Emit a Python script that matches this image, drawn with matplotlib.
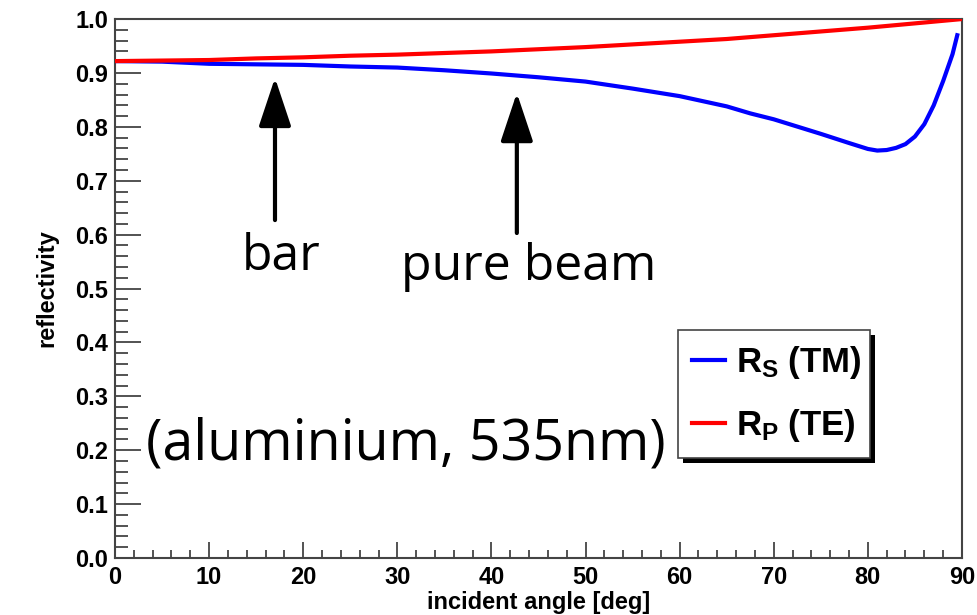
import matplotlib
matplotlib.use('Agg')
import matplotlib.pyplot as plt
from matplotlib.patches import Rectangle
from matplotlib.ticker import MultipleLocator

# Values
angle_s = [0, 5, 10, 15, 20, 25, 30, 35, 40, 45, 50, 55, 60, 65, 67.5, 70, 75,
           78, 80, 81, 82, 83, 84, 85, 86, 87, 88, 89, 89.5]
refl_s = [0.922, 0.921, 0.917, 0.916, 0.915, 0.912, 0.910, 0.905, 0.899, 0.892,
          0.884, 0.871, 0.857, 0.838, 0.825, 0.814, 0.787, 0.770, 0.759, 0.756,
          0.757, 0.761, 0.768, 0.782, 0.805, 0.840, 0.885, 0.935, 0.970]
angle_p = [0, 5, 10, 15, 20, 25, 30, 35, 40, 45, 50, 55, 60, 65, 70, 75, 80, 85, 90]
refl_p = [0.922, 0.923, 0.924, 0.927, 0.929, 0.932, 0.934, 0.937, 0.940, 0.944,
          0.948, 0.953, 0.958, 0.963, 0.970, 0.977, 0.984, 0.992, 1.0]

labels = [r'$R_S$ (TM)', r'$R_P$ (TE)']
arrow_x = [17, 42.7]
arrow_tip = [0.891, 0.863]
arrow_tail = [0.627, 0.603]
arrow_text = ['bar', 'pure beam']

plt.rcParams['font.family'] = 'Liberation Sans'
plt.rcParams['font.weight'] = 'bold'
plt.rcParams['mathtext.fontset'] = 'custom'
plt.rcParams['mathtext.rm'] = 'Liberation Sans:bold'
plt.rcParams['mathtext.it'] = 'Liberation Sans:bold'
plt.rcParams['mathtext.bf'] = 'Liberation Sans:bold'

fig = plt.figure(figsize=(9.78, 6.15), dpi=100)
ax = fig.add_axes([0.1176, 0.0927, 0.866, 0.8763])

ax.plot(angle_s, refl_s, color='blue', lw=3, label=labels[0], zorder=3)
ax.plot(angle_p, refl_p, color='red', lw=3, label=labels[1], zorder=4)

ax.set_xlim(0, 90)
ax.set_ylim(0, 1.0)
ax.xaxis.set_major_locator(MultipleLocator(10))
ax.xaxis.set_minor_locator(MultipleLocator(2))
ax.yaxis.set_major_locator(MultipleLocator(0.1))
ax.yaxis.set_minor_locator(MultipleLocator(0.02))
ax.set_yticks(ax.get_yticks())
ax.set_yticklabels(['%.1f' % v for v in ax.get_yticks()])
ax.set_ylim(0, 1.0)

frame = '#444444'
for sp in ax.spines.values():
    sp.set_color(frame)
    sp.set_linewidth(1.5)
ax.tick_params(which='both', direction='in', color=frame, width=1.3,
               labelsize=17, top=False, right=False)
ax.tick_params(axis='x', which='major', length=11.5, pad=6)
ax.tick_params(axis='x', which='minor', length=5.8)
ax.tick_params(axis='y', which='major', length=19, pad=5)
ax.tick_params(axis='y', which='minor', length=9)
ax.set_xlabel('incident angle [deg]', fontsize=17, fontweight='bold', labelpad=0)
ax.set_ylabel('reflectivity', fontsize=17, fontweight='bold', labelpad=12)
ax.xaxis.set_label_coords(0.5, -0.062)

# arrows and hand-written notes
for x, tip, tail in zip(arrow_x, arrow_tip, arrow_tail):
    ax.annotate('', xy=(x, tip), xytext=(x, tail),
                arrowprops=dict(arrowstyle='-|>,head_length=3.0,head_width=1.0',
                                mutation_scale=10, lw=3, color='black',
                                shrinkA=0, shrinkB=0))
ax.text(17.6, 0.535, arrow_text[0], fontsize=36, fontfamily='Open Sans',
        fontweight='normal', ha='center', va='baseline')
ax.text(44.0, 0.515, arrow_text[1], fontsize=36, fontfamily='Open Sans',
        fontweight='normal', ha='center', va='baseline')
ax.text(3.3, 0.2095, '(aluminium, 535nm)', fontsize=40, fontfamily='Open Sans',
        fontweight='normal', ha='left', va='center')

leg = ax.legend(loc='lower left', bbox_to_anchor=(0.665, 0.186, 0.226, 0.231),
                mode='expand', fontsize=25, frameon=True, fancybox=False,
                framealpha=1, borderaxespad=0, handlelength=0.95,
                handletextpad=0.3, labelspacing=0.75, borderpad=0.4)
leg.get_frame().set_facecolor('white')
leg.get_frame().set_edgecolor(frame)
leg.get_frame().set_linewidth(1.2)
leg.set_zorder(10)

# ROOT-like black drop shadow under the legend box
fig.canvas.draw()
bb = leg.get_window_extent()
shadow = Rectangle((bb.x0 + 5, bb.y0 - 5), bb.width, bb.height, transform=None,
                   facecolor='black', edgecolor='none', zorder=9)
ax.add_artist(shadow)

fig.savefig('out.png', dpi=100)
